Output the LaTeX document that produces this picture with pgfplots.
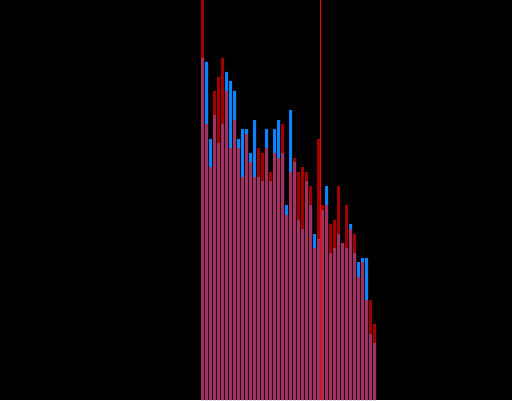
\documentclass[border=0pt]{standalone}
\usepackage{pgfplots}
\usepackage{pgfplotstable}
\pgfplotsset{compat=1.18}
\definecolor{barblue}{RGB}{10,132,255}
\definecolor{barred}{RGB}{255,0,0}
\pgfplotstableread{
x blue red
202.5 342 420
206.5 338 276
210.5 261 233
214.5 285 309
218.5 257 323
222.5 276 342
226.5 328 309
230.5 319 252
234.5 309 280
238.5 261 252
242.5 271 223
246.5 271 266
250.5 247 238
254.5 280 223
258.5 223 252
262.5 219 247
266.5 271 252
270.5 219 228
274.5 271 247
278.5 280 242
282.5 247 276
286.5 195 185
290.5 290 228
294.5 238 242
298.5 180 228
302.5 171 233
306.5 219 228
310.5 195 214
314.5 166 152
318.5 161 261
322.5 190 195
326.5 214 195
330.5 147 176
334.5 152 180
338.5 166 214
342.5 157 157
346.5 152 195
350.5 176 171
354.5 147 166
358.5 138 123
362.5 142 138
366.5 142 100
370.5 66 100
374.5 57 76
}\datatable
\begin{document}
\begin{tikzpicture}
\fill[black] (0,0) rectangle (512pt,400pt);
\begin{axis}[
  at={(0,0)}, anchor=south west,
  scale only axis, width=512pt, height=400pt,
  xmin=0, xmax=512, ymin=0, ymax=400,
  hide axis, clip=true,
]
\addplot[ybar, bar width=3, bar shift=0pt, fill=barblue, draw=none] table[x=x, y=blue] {\datatable};
\addplot[ybar, bar width=3, bar shift=0pt, fill=barred, fill opacity=0.63, draw=none] table[x=x, y=red] {\datatable};
\addplot[barred, line width=1.5pt] coordinates {(320.5,0) (320.5,400)};
\end{axis}
\end{tikzpicture}
\end{document}
